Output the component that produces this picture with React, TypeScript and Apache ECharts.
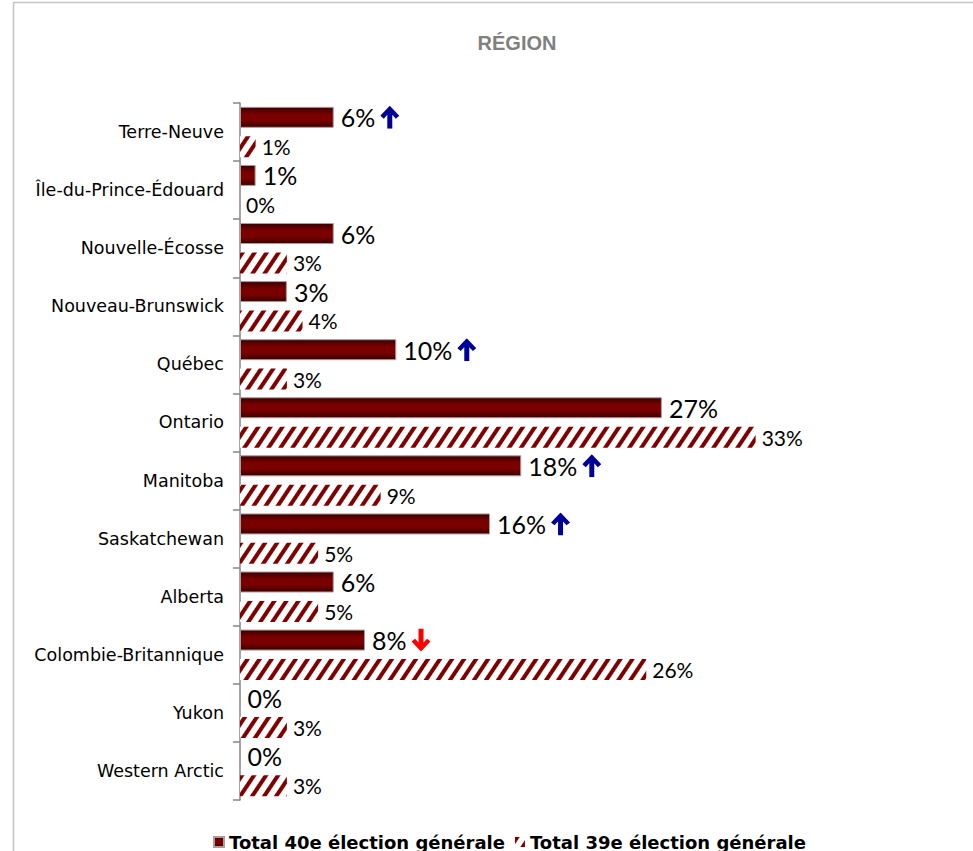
import React, { useEffect, useRef } from "react";
import * as echarts from "echarts";

const categories = [
  "Terre-Neuve",
  "Île-du-Prince-Édouard",
  "Nouvelle-Écosse",
  "Nouveau-Brunswick",
  "Québec",
  "Ontario",
  "Manitoba",
  "Saskatchewan",
  "Alberta",
  "Colombie-Britannique",
  "Yukon",
  "Western Arctic",
];
const total40 = [6, 1, 6, 3, 10, 27, 18, 16, 6, 8, 0, 0];
const total39 = [1, 0, 3, 4, 3, 33, 9, 5, 5, 26, 3, 3];
// trend arrow after 40e labels: "up", "down" or ""
const trend40 = ["up", "", "", "", "up", "", "up", "up", "", "down", "", ""];
const seriesNames = ["Total 40e élection générale", "Total 39e élection générale"];
const titleText = "RÉGION";

const upSvg =
  "<svg xmlns='http://www.w3.org/2000/svg' width='19' height='23' viewBox='0 0 19 23'><path d='M9.5 0 L19 10 L15.5 12.8 L12 9 L12 23 L7 23 L7 9 L3.5 12.8 L0 10 Z' fill='%23000099'/></svg>";
const downSvg =
  "<svg xmlns='http://www.w3.org/2000/svg' width='19' height='23' viewBox='0 0 19 23'><path d='M9.5 23 L19 13 L15.5 10.2 L12 14 L12 0 L7 0 L7 14 L3.5 10.2 L0 13 Z' fill='%23ff0000'/></svg>";
const upUrl = "data:image/svg+xml;charset=utf-8," + upSvg;
const downUrl = "data:image/svg+xml;charset=utf-8," + downSvg;

export default function App() {
  const ref = useRef<HTMLDivElement>(null);
  useEffect(() => {
    if (!ref.current) return;
    const chart = echarts.init(ref.current, null, { renderer: "svg" });
    const barGradient = new echarts.graphic.LinearGradient(0, 0, 0, 1, [
      { offset: 0, color: "#3a0000" },
      { offset: 0.35, color: "#7a0000" },
      { offset: 0.65, color: "#7a0000" },
      { offset: 1, color: "#3a0000" },
    ]);
    chart.setOption({
      animation: false,
      backgroundColor: "#ffffff",
      title: {
        text: titleText,
        left: 512,
        textAlign: "center",
        top: 28,
        textStyle: {
          fontFamily: "Liberation Sans",
          fontSize: 20,
          fontWeight: "bold",
          color: "#808080",
        },
      },
      graphic: [
        {
          type: "rect",
          shape: { x: 13.5, y: 2.5, width: 1000, height: 900 },
          style: { fill: "none", stroke: "#c4c4c4", lineWidth: 1.5 },
          silent: true,
        },
      ],
      legend: {
        top: 828,
        left: 208,
        itemWidth: 10,
        itemHeight: 10,
        itemGap: 10,
        icon: "rect",
        textStyle: {
          fontFamily: "DejaVu Sans",
          fontWeight: "bold",
          fontSize: 18,
          color: "#000",
        },
        data: seriesNames,
      },
      grid: { left: 240, top: 103, width: 625, height: 697 },
      xAxis: {
        type: "value",
        min: 0,
        max: 40,
        show: false,
      },
      yAxis: {
        type: "category",
        data: categories,
        inverse: true,
        axisLine: { show: true, lineStyle: { color: "#868686", width: 1.5 } },
        axisTick: { show: true, length: 7, lineStyle: { color: "#868686", width: 1.5 } },
        axisLabel: {
          margin: 16,
          color: "#000",
          fontFamily: "DejaVu Sans",
          fontSize: 17.5,
        },
        splitLine: { show: false },
      },
      series: [
        {
          name: seriesNames[0],
          type: "bar",
          data: total40,
          barWidth: 21,
          barGap: "40%",
          itemStyle: {
            color: barGradient,
            borderColor: "#b09a9a",
            borderWidth: 1,
          },
          label: {
            show: true,
            position: "right",
            distance: 7,
            formatter: (p: any) => {
              const t = trend40[p.dataIndex];
              const v = `{v|${p.value}%}`;
              if (t === "up") return v + "{gap|}{up|}";
              if (t === "down") return v + "{gap|}{down|}";
              return v;
            },
            rich: {
              v: { fontFamily: "Lato", fontSize: 25, color: "#000" },
              gap: { width: 5, height: 10 },
              up: {
                width: 19,
                height: 23,
                backgroundColor: { image: upUrl },
              },
              down: {
                width: 19,
                height: 23,
                backgroundColor: { image: downUrl },
              },
            },
          },
        },
        {
          name: seriesNames[1],
          type: "bar",
          data: total39,
          barWidth: 21,
          itemStyle: {
            color: "#ffffff",
            decal: {
              symbol: "rect",
              symbolSize: 1,
              color: "#800000",
              dashArrayX: [1, 0],
              dashArrayY: [3.5, 5.5],
              rotation: -Math.PI / 3.2,
            },
          },
          label: {
            show: true,
            position: "right",
            distance: 6,
            formatter: "{c}%",
            fontFamily: "Lato",
            fontSize: 21,
            color: "#000",
          },
        },
      ],
    });
    return () => chart.dispose();
  }, []);
  return (
    <div
      ref={ref}
      style={{ position: "fixed", left: 0, top: 0, width: 973, height: 851 }}
    />
  );
}
